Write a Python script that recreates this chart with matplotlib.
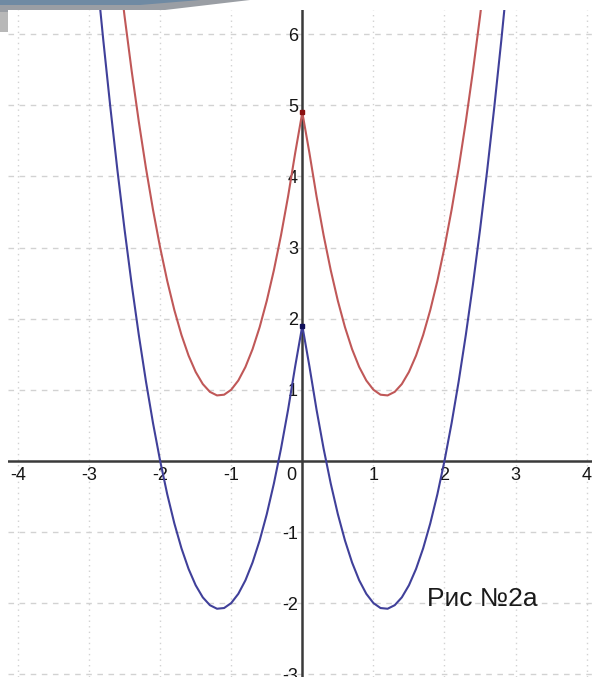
import numpy as np
import matplotlib.pyplot as plt
from matplotlib.patches import Polygon

plt.rcParams['font.family'] = ['Liberation Sans', 'DejaVu Sans']

# точки
x_vals = [-2.9, -2.8, -2.7, -2.6, -2.5, -2.4, -2.3, -2.2, -2.1, -2.0,
          -1.9, -1.8, -1.7, -1.6, -1.5, -1.4, -1.3, -1.2, -1.1, -1.0,
          -0.9, -0.8, -0.7, -0.6, -0.5, -0.4, -0.3, -0.2, -0.1, 0.0,
          0.1, 0.2, 0.3, 0.4, 0.5, 0.6, 0.7, 0.8, 0.9, 1.0,
          1.1, 1.2, 1.3, 1.4, 1.5, 1.6, 1.7, 1.8, 1.9, 2.0,
          2.1, 2.2, 2.3, 2.4, 2.5, 2.6, 2.7, 2.8, 2.9]

blue_y = [6.93, 5.92, 4.97, 4.08, 3.25, 2.48, 1.77, 1.12, 0.53, 0.00,
          -0.47, -0.88, -1.23, -1.52, -1.75, -1.92, -2.03, -2.08, -2.07, -2.00,
          -1.87, -1.68, -1.43, -1.12, -0.75, -0.32, 0.17, 0.72, 1.33, 1.90,
          1.33, 0.72, 0.17, -0.32, -0.75, -1.12, -1.43, -1.68, -1.87, -2.00,
          -2.07, -2.08, -2.03, -1.92, -1.75, -1.52, -1.23, -0.88, -0.47, 0.00,
          0.53, 1.12, 1.77, 2.48, 3.25, 4.08, 4.97, 5.92, 6.93]

red_y = [9.93, 8.92, 7.97, 7.08, 6.25, 5.48, 4.77, 4.12, 3.53, 3.00,
         2.53, 2.12, 1.77, 1.48, 1.25, 1.08, 0.97, 0.92, 0.93, 1.00,
         1.13, 1.32, 1.57, 1.88, 2.25, 2.68, 3.17, 3.72, 4.33, 4.90,
         4.33, 3.72, 3.17, 2.68, 2.25, 1.88, 1.57, 1.32, 1.13, 1.00,
         0.93, 0.92, 0.97, 1.08, 1.25, 1.48, 1.77, 2.12, 2.53, 3.00,
         3.53, 4.12, 4.77, 5.48, 6.25, 7.08, 7.97, 8.92, 9.93]

x_ticks = [-4, -3, -2, -1, 1, 2, 3, 4]
y_ticks = [-3, -2, -1, 1, 2, 3, 4, 5, 6]

W, H = 592, 677
fig = plt.figure(figsize=(W / 100, H / 100), dpi=100)
ax = fig.add_axes([8 / W, 0, 584 / W, 667 / H])
ax.set_xlim(-4.14, 4.075)
ax.set_ylim(-3.04, 6.34)
ax.axis('off')

# сетка
for xv in x_ticks:
    ax.axvline(xv, color='#d2d2d2', lw=1.0, ls=(0, (1, 3)), zorder=0)
for yv in y_ticks:
    ax.axhline(yv, color='#d2d2d2', lw=1.0, ls=(0, (4, 4)), zorder=0)

# оси
ax.axhline(0, color='#3a3a3a', lw=1.8, zorder=1)
ax.axvline(0, color='#3a3a3a', lw=1.8, zorder=1)

# подписи делений
for xv in x_ticks:
    ax.text(xv, -0.21, str(xv), ha='center', va='center', fontsize=13,
            color='#151515', zorder=1)
ax.text(-0.16, -0.21, '0', ha='center', va='center', fontsize=13,
        color='#151515', zorder=1)
for yv in y_ticks:
    ax.text(-0.06, yv - 0.03, str(yv), ha='right', va='center', fontsize=13,
            color='#151515', zorder=1)

# графики
ax.plot(x_vals, red_y, color='#c05858', lw=1.5, zorder=2)
ax.plot(x_vals, blue_y, color='#40409a', lw=1.5, zorder=3)
ax.plot([0], [red_y[29]], marker='s', ms=3.5, color='#8a1010', zorder=4)
ax.plot([0], [blue_y[29]], marker='s', ms=3.5, color='#10105a', zorder=4)

ax.text(1.75, -2.04, 'Рис №2а', fontsize=19, color='#1a1a1a',
        ha='left', va='baseline')

# декоративная полоса слайда сверху
def px(pts):
    return [(x / W, 1 - y / H) for x, y in pts]

fig.patches.append(Polygon(px([(0, 0), (250, 0), (165, 10), (8, 10), (8, 32), (0, 32)]),
                           closed=True, transform=fig.transFigure,
                           facecolor='#9a9ea4', edgecolor='none', zorder=5))
fig.patches.append(Polygon(px([(0, 0), (200, 0), (140, 5), (0, 5)]),
                           closed=True, transform=fig.transFigure,
                           facecolor='#6f8aa3', edgecolor='none', zorder=6))
fig.patches.append(Polygon(px([(0, 12), (8, 12), (8, 32), (0, 32)]),
                           closed=True, transform=fig.transFigure,
                           facecolor='#b8b8b8', edgecolor='none', zorder=6))

fig.savefig('out.png', dpi=100)
